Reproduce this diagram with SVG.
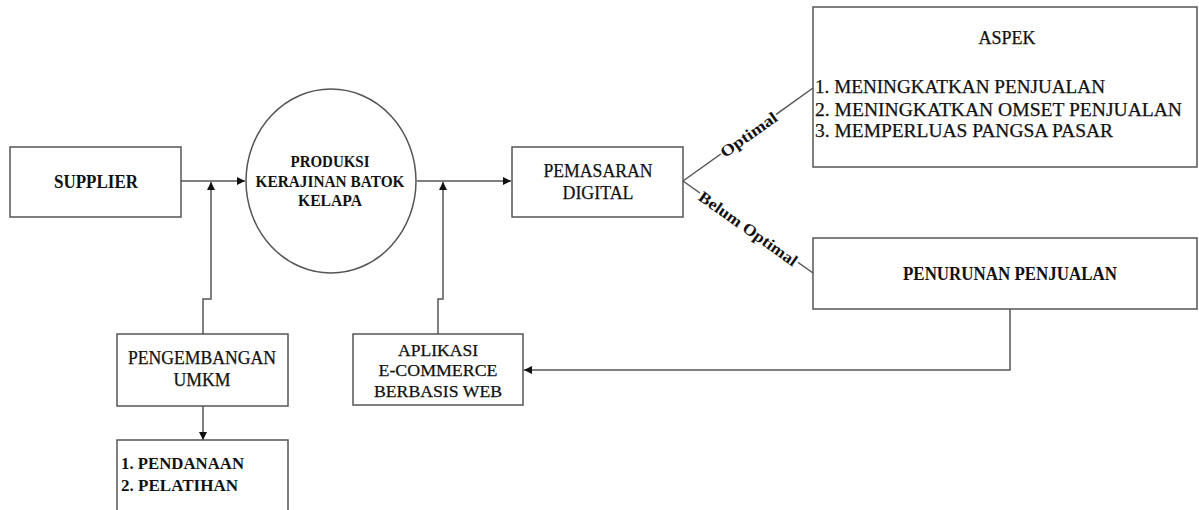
<svg xmlns="http://www.w3.org/2000/svg" width="1199" height="510" viewBox="0 0 1199 510">
<style>
.box{fill:#fff;stroke:#555;stroke-width:1.5}
.ln{fill:none;stroke:#555;stroke-width:1.5}
.t{font-family:"Liberation Serif","Times New Roman",serif;font-size:18px;fill:#111;stroke:#111;stroke-width:0.25}
.b{font-weight:bold;stroke-width:0}
.c{text-anchor:middle}
</style>
<defs>
<marker id="ar" viewBox="0 0 10 10" refX="10" refY="5" markerWidth="8" markerHeight="8" markerUnits="userSpaceOnUse" orient="auto">
<path d="M0,0 L10,5 L0,10 z" fill="#111"/>
</marker>
</defs>
<rect width="1199" height="510" fill="#fff"/>
<g id="connectors">
<path class="ln" d="M181,181 H245" marker-end="url(#ar)"/>
<path class="ln" d="M203,334 V299 H211 V182" marker-end="url(#ar)"/>
<path class="ln" d="M417,181 H511" marker-end="url(#ar)"/>
<path class="ln" d="M438,334 V299 H443 V182" marker-end="url(#ar)"/>
<path class="ln" d="M203,406 V440" marker-end="url(#ar)"/>
<path class="ln" d="M1010,309 V370 H524" marker-end="url(#ar)"/>
<path class="ln" d="M683,181 L813,88"/>
<path class="ln" d="M683,181 L813,273"/>
<g transform="translate(749,135) rotate(-35.5)">
<rect x="-34" y="-8" width="68" height="16" fill="#fff"/>
<text class="t b c" x="0" y="5" style="font-size:16px" textLength="66" lengthAdjust="spacingAndGlyphs">Optimal</text>
</g>
<g transform="translate(748,229) rotate(35.3)">
<rect x="-60" y="-8" width="120" height="16" fill="#fff"/>
<text class="t b c" x="0" y="5" style="font-size:16px" textLength="117" lengthAdjust="spacingAndGlyphs">Belum Optimal</text>
</g>
</g>
<g id="supplier">
<rect class="box" x="10" y="147" width="171" height="70"/>
<text class="t b c" x="96" y="188" style="font-size:18px" textLength="84" lengthAdjust="spacingAndGlyphs">SUPPLIER</text>
</g>
<g id="produksi">
<ellipse class="box" cx="331" cy="181" rx="85" ry="92"/>
<text class="t b c" x="330" y="167" style="font-size:16px" textLength="79" lengthAdjust="spacingAndGlyphs">PRODUKSI</text>
<text class="t b c" x="330" y="187" style="font-size:16px" textLength="149" lengthAdjust="spacingAndGlyphs">KERAJINAN BATOK</text>
<text class="t b c" x="330" y="206" style="font-size:16px" textLength="64" lengthAdjust="spacingAndGlyphs">KELAPA</text>
</g>
<g id="pemasaran">
<rect class="box" x="512" y="147" width="171" height="70"/>
<text class="t c" x="598" y="177" style="font-size:18.5px" textLength="109" lengthAdjust="spacingAndGlyphs">PEMASARAN</text>
<text class="t c" x="598" y="199" style="font-size:18.5px" textLength="71" lengthAdjust="spacingAndGlyphs">DIGITAL</text>
</g>
<g id="aspek">
<rect class="box" x="813" y="7" width="384" height="160"/>
<text class="t c" x="1007" y="44" textLength="57" lengthAdjust="spacingAndGlyphs">ASPEK</text>
<text class="t" x="815" y="93" textLength="290" lengthAdjust="spacingAndGlyphs">1. MENINGKATKAN PENJUALAN</text>
<text class="t" x="815" y="116" textLength="367" lengthAdjust="spacingAndGlyphs">2. MENINGKATKAN OMSET PENJUALAN</text>
<text class="t" x="815" y="137" textLength="298" lengthAdjust="spacingAndGlyphs">3. MEMPERLUAS PANGSA PASAR</text>
</g>
<g id="penurunan">
<rect class="box" x="813" y="238" width="384" height="71"/>
<text class="t b c" x="1010" y="280" style="font-size:18.5px" textLength="214" lengthAdjust="spacingAndGlyphs">PENURUNAN PENJUALAN</text>
</g>
<g id="pengembangan">
<rect class="box" x="117" y="334" width="171" height="72"/>
<text class="t c" x="202" y="364" textLength="148" lengthAdjust="spacingAndGlyphs">PENGEMBANGAN</text>
<text class="t c" x="202" y="386" textLength="57" lengthAdjust="spacingAndGlyphs">UMKM</text>
</g>
<g id="pendanaan">
<rect class="box" x="117" y="440" width="171" height="80"/>
<text class="t b" x="121" y="469" style="font-size:17.5px" textLength="123" lengthAdjust="spacingAndGlyphs">1. PENDANAAN</text>
<text class="t b" x="121" y="491" style="font-size:17.5px" textLength="117" lengthAdjust="spacingAndGlyphs">2. PELATIHAN</text>
</g>
<g id="aplikasi">
<rect class="box" x="353" y="334" width="170" height="71"/>
<text class="t c" x="438" y="356" style="font-size:17.5px" textLength="80" lengthAdjust="spacingAndGlyphs">APLIKASI</text>
<text class="t c" x="438" y="376" style="font-size:17.5px" textLength="119" lengthAdjust="spacingAndGlyphs">E-COMMERCE</text>
<text class="t c" x="438" y="397" style="font-size:17.5px" textLength="128" lengthAdjust="spacingAndGlyphs">BERBASIS WEB</text>
</g>
</svg>
